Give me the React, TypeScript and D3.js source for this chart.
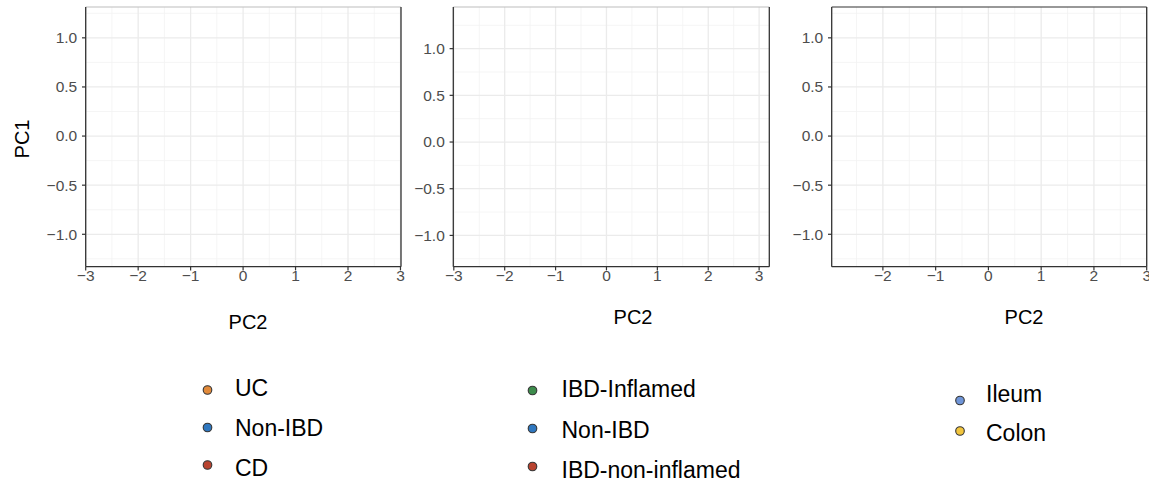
import React from 'react';
import * as d3 from 'd3';

// visible axis ranges of each (empty) panel
const xDomains: [number, number][] = [[-3, 3.01], [-3.01, 3.2], [-2.97, 3.0]];
const yDomains: [number, number][] = [[-1.33, 1.314], [-1.335, 1.446], [-1.33, 1.314]];
const xTicks = [-3, -2, -1, 0, 1, 2, 3];
const yTicks = [-1, -0.5, 0, 0.5, 1];
const xMinor = [-2.5, -1.5, -0.5, 0.5, 1.5, 2.5];
const yMinor = [-1.25, -0.75, -0.25, 0.25, 0.75, 1.25];

const legend1 = ['UC', 'Non-IBD', 'CD'];
const legend2 = ['IBD-Inflamed', 'Non-IBD', 'IBD-non-inflamed'];
const legend3 = ['Ileum', 'Colon'];
const colors1 = ['#e28a3a', '#2f77bf', '#b8432f'];
const colors2 = ['#3d8c4c', '#2f77bf', '#b8432f'];
const colors3 = ['#6f95d8', '#f2c53d'];

const panels = [
  { x0: 85.7, x1: 401, topColor: '#bdbdbd', title: [248, 322] },
  { x0: 453.3, x1: 769.3, topColor: '#bdbdbd', title: [633, 317] },
  { x0: 831.7, x1: 1146.7, topColor: '#333333', title: [1024, 317] },
];
const legends = [
  { labels: legend1, colors: colors1, px: 207.5, tx: 235, dotY: 390, dotStep: 37.5, textY: 388, textStep: 40 },
  { labels: legend2, colors: colors2, px: 532.5, tx: 561.5, dotY: 390.5, dotStep: 38, textY: 389, textStep: 40.5 },
  { labels: legend3, colors: colors3, px: 960, tx: 986, dotY: 400.5, dotStep: 30.5, textY: 393.5, textStep: 39.5 },
];

const FONT = '"Liberation Sans", Arial, Helvetica, sans-serif';
const top = 7;
const bottom = 266.7;

function Panel({ idx }: { idx: number }) {
  const p = panels[idx];
  const x = d3.scaleLinear().domain(xDomains[idx]).range([p.x0, p.x1]);
  const y = d3.scaleLinear().domain(yDomains[idx]).range([bottom, top]);
  const inX = (v: number) => v >= xDomains[idx][0] - 1e-6 && v <= xDomains[idx][1] + 1e-6;
  const inY = (v: number) => v >= yDomains[idx][0] && v <= yDomains[idx][1];
  return (
    <g>
      {xMinor.filter(inX).map(v => (
        <line key={'xm' + v} x1={x(v)} x2={x(v)} y1={top} y2={bottom} stroke="#f2f2f2" strokeWidth={0.8} />
      ))}
      {yMinor.filter(inY).map(v => (
        <line key={'ym' + v} x1={p.x0} x2={p.x1} y1={y(v)} y2={y(v)} stroke="#f2f2f2" strokeWidth={0.8} />
      ))}
      {xTicks.filter(inX).map(v => (
        <line key={'xg' + v} x1={x(v)} x2={x(v)} y1={top} y2={bottom} stroke="#ebebeb" strokeWidth={1.3} />
      ))}
      {yTicks.map(v => (
        <line key={'yg' + v} x1={p.x0} x2={p.x1} y1={y(v)} y2={y(v)} stroke="#ebebeb" strokeWidth={1.3} />
      ))}
      {/* frame */}
      <line x1={p.x0} x2={p.x1} y1={top} y2={top} stroke={p.topColor} strokeWidth={1.2} />
      <line x1={p.x1} x2={p.x1} y1={top} y2={bottom} stroke="#333" strokeWidth={1.3} />
      <line x1={p.x0} x2={p.x0} y1={top} y2={bottom} stroke="#333" strokeWidth={1.3} />
      <line x1={p.x0} x2={p.x1} y1={bottom} y2={bottom} stroke="#333" strokeWidth={1.3} />
      {/* x axis */}
      {xTicks.filter(inX).map(v => (
        <g key={'xt' + v}>
          <line x1={x(v)} x2={x(v)} y1={bottom} y2={bottom + 3.7} stroke="#333" strokeWidth={1.2} />
          <text x={x(v)} y={bottom + 14.5} textAnchor="middle" fontSize={15.5} fill="#4d4d4d" fontFamily={FONT}>
            {d3.format('')(v).replace('-', '\u2212')}
          </text>
        </g>
      ))}
      {/* y axis */}
      {yTicks.map(v => (
        <g key={'yt' + v}>
          <line x1={p.x0 - 3.7} x2={p.x0} y1={y(v)} y2={y(v)} stroke="#333" strokeWidth={1.2} />
          <text x={p.x0 - 8.5} y={y(v)} dy="0.35em" textAnchor="end" fontSize={15.5} fill="#4d4d4d" fontFamily={FONT}>
            {d3.format('.1f')(v).replace('-', '\u2212')}
          </text>
        </g>
      ))}
      <text x={p.title[0]} y={p.title[1]} dy="0.35em" textAnchor="middle" fontSize={20} fill="#000" fontFamily={FONT}>
        PC2
      </text>
    </g>
  );
}

function Legend({ idx }: { idx: number }) {
  const l = legends[idx];
  return (
    <g>
      {l.labels.map((lab, i) => (
        <g key={lab}>
          <circle cx={l.px} cy={l.dotY + i * l.dotStep} r={4.3} fill={l.colors[i]} stroke="#333" strokeWidth={1.1} />
          <text x={l.tx} y={l.textY + i * l.textStep} dy="0.35em" fontSize={23} fill="#000" fontFamily={FONT}>
            {lab}
          </text>
        </g>
      ))}
    </g>
  );
}

export default function App() {
  return (
    <div style={{ position: 'fixed', left: 0, top: 0 }}>
      <svg width={1149} height={485} style={{ display: 'block', background: '#fff' }}>
        <text transform="translate(22,139) rotate(-90)" dy="0.35em" textAnchor="middle" fontSize={20} fontFamily={FONT}>
          PC1
        </text>
        {[0, 1, 2].map(i => <Panel key={i} idx={i} />)}
        {[0, 1, 2].map(i => <Legend key={i} idx={i} />)}
      </svg>
    </div>
  );
}
